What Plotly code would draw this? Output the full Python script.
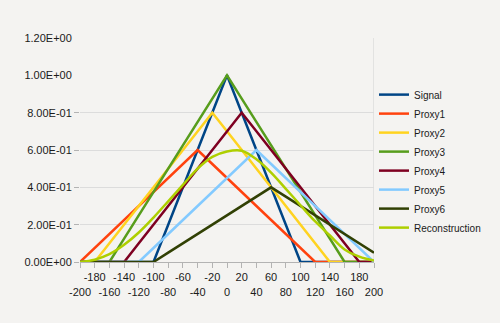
import plotly.graph_objects as go

x_vals = [-200, -180, -160, -140, -120, -100, -80, -60, -40, -20, 0,
          20, 40, 60, 80, 100, 120, 140, 160, 180, 200]

signal = [0, 0, 0, 0, 0, 0, 0.2, 0.4, 0.6, 0.8, 1.0, 0.8, 0.6, 0.4, 0.2, 0, 0, 0, 0, 0, 0]
proxy1 = [0, 0.075, 0.15, 0.225, 0.3, 0.375, 0.45, 0.525, 0.6, 0.525, 0.45, 0.375, 0.3,
          0.225, 0.15, 0.075, 0, 0, 0, 0, 0]
proxy2 = [0, 0, 0.1, 0.2, 0.3, 0.4, 0.5, 0.6, 0.7, 0.8, 0.7, 0.6, 0.5, 0.4, 0.3, 0.2, 0.1,
          0, 0, 0, 0]
proxy3 = [0, 0, 0, 0.125, 0.25, 0.375, 0.5, 0.625, 0.75, 0.875, 1.0, 0.875, 0.75, 0.625,
          0.5, 0.375, 0.25, 0.125, 0, 0, 0]
proxy4 = [0, 0, 0, 0, 0.1, 0.2, 0.3, 0.4, 0.5, 0.6, 0.7, 0.8, 0.7, 0.6, 0.5, 0.4, 0.3,
          0.2, 0.1, 0, 0]
proxy5 = [0, 0, 0, 0, 0, 0.075, 0.15, 0.225, 0.3, 0.375, 0.45, 0.525, 0.6, 0.525, 0.45,
          0.375, 0.3, 0.225, 0.15, 0.075, 0]
proxy6 = [0, 0, 0, 0, 0, 0, 0.05, 0.1, 0.15, 0.2, 0.25, 0.3, 0.35, 0.4, 0.35, 0.3, 0.25,
          0.2, 0.15, 0.1, 0.05]
reconstruction = [0, 0.0125, 0.042, 0.092, 0.158, 0.238, 0.325, 0.413, 0.5, 0.563, 0.592,
                  0.596, 0.55, 0.479, 0.392, 0.304, 0.217, 0.142, 0.067, 0.029, 0.008]

series_names = ["Signal", "Proxy1", "Proxy2", "Proxy3", "Proxy4", "Proxy5", "Proxy6",
                "Reconstruction"]
series_values = [signal, proxy1, proxy2, proxy3, proxy4, proxy5, proxy6, reconstruction]
colors = ["#004586", "#ff420e", "#ffd320", "#579d1c", "#7e0021", "#83caff", "#314004",
          "#aecf00"]

# ticks with grid lines / ticks without (upper labels)
y_ticks_grid = [0, 0.2, 0.4, 0.6, 0.8]
y_labels_grid = ["0.00E+00", "2.00E-01", "4.00E-01", "6.00E-01", "8.00E-01"]
y_ticks_top = [1.0, 1.2]
y_labels_top = ["1.00E+00", "1.20E+00"]
x_ticks = list(range(-200, 201, 20))
x_tick_labels = [(str(v) if (v // 20) % 2 else "<br>" + str(v)) for v in x_ticks]

fig = go.Figure()
for name, vals, col in zip(series_names, series_values, colors):
    fig.add_trace(go.Scatter(
        x=x_vals, y=vals, name=name, mode="lines",
        line=dict(color=col, width=2.5,
                  shape="spline" if name == "Reconstruction" else "linear"),
    ))
# empty helper trace so the upper-label axis is rendered
fig.add_trace(go.Scatter(x=[None], y=[None], yaxis="y2", mode="lines",
                         showlegend=False, hoverinfo="skip"))

bg = "#f4f3f1"
fig.update_layout(
    width=500, height=323,
    margin=dict(l=80, r=126, t=38, b=61),
    paper_bgcolor=bg, plot_bgcolor=bg,
    font=dict(family="Liberation Sans, Arial, sans-serif", size=11, color="#1a1a1a"),
    showlegend=True,
    legend=dict(x=1.0, xanchor="left", y=0.812, yanchor="top",
                bgcolor="rgba(0,0,0,0)", itemwidth=30,
                font=dict(size=10), tracegroupgap=0),
    xaxis=dict(range=[-200, 200], tickvals=x_ticks, ticktext=x_tick_labels,
               showgrid=False, zeroline=False, showline=True, linecolor="#b3b3b3",
               ticks="outside", ticklen=5, tickcolor="#b3b3b3", tickangle=0),
    yaxis=dict(range=[0, 1.2], tickvals=y_ticks_grid, ticktext=y_labels_grid,
               showgrid=True, gridcolor="#dcdcdc", gridwidth=1, zeroline=False,
               showline=False, ticks="outside", ticklen=5, tickcolor="#b3b3b3"),
    yaxis2=dict(range=[0, 1.2], tickvals=y_ticks_top, ticktext=y_labels_top,
                overlaying="y", side="left", showgrid=False, zeroline=False,
                showline=False, ticks="outside", ticklen=5, tickcolor=bg),
    shapes=[dict(type="line", xref="x", yref="y", x0=200, x1=200, y0=0, y1=1.2,
                 line=dict(color="#d0d0d0", width=1), layer="below")],
)

fig.write_html("out.html")
